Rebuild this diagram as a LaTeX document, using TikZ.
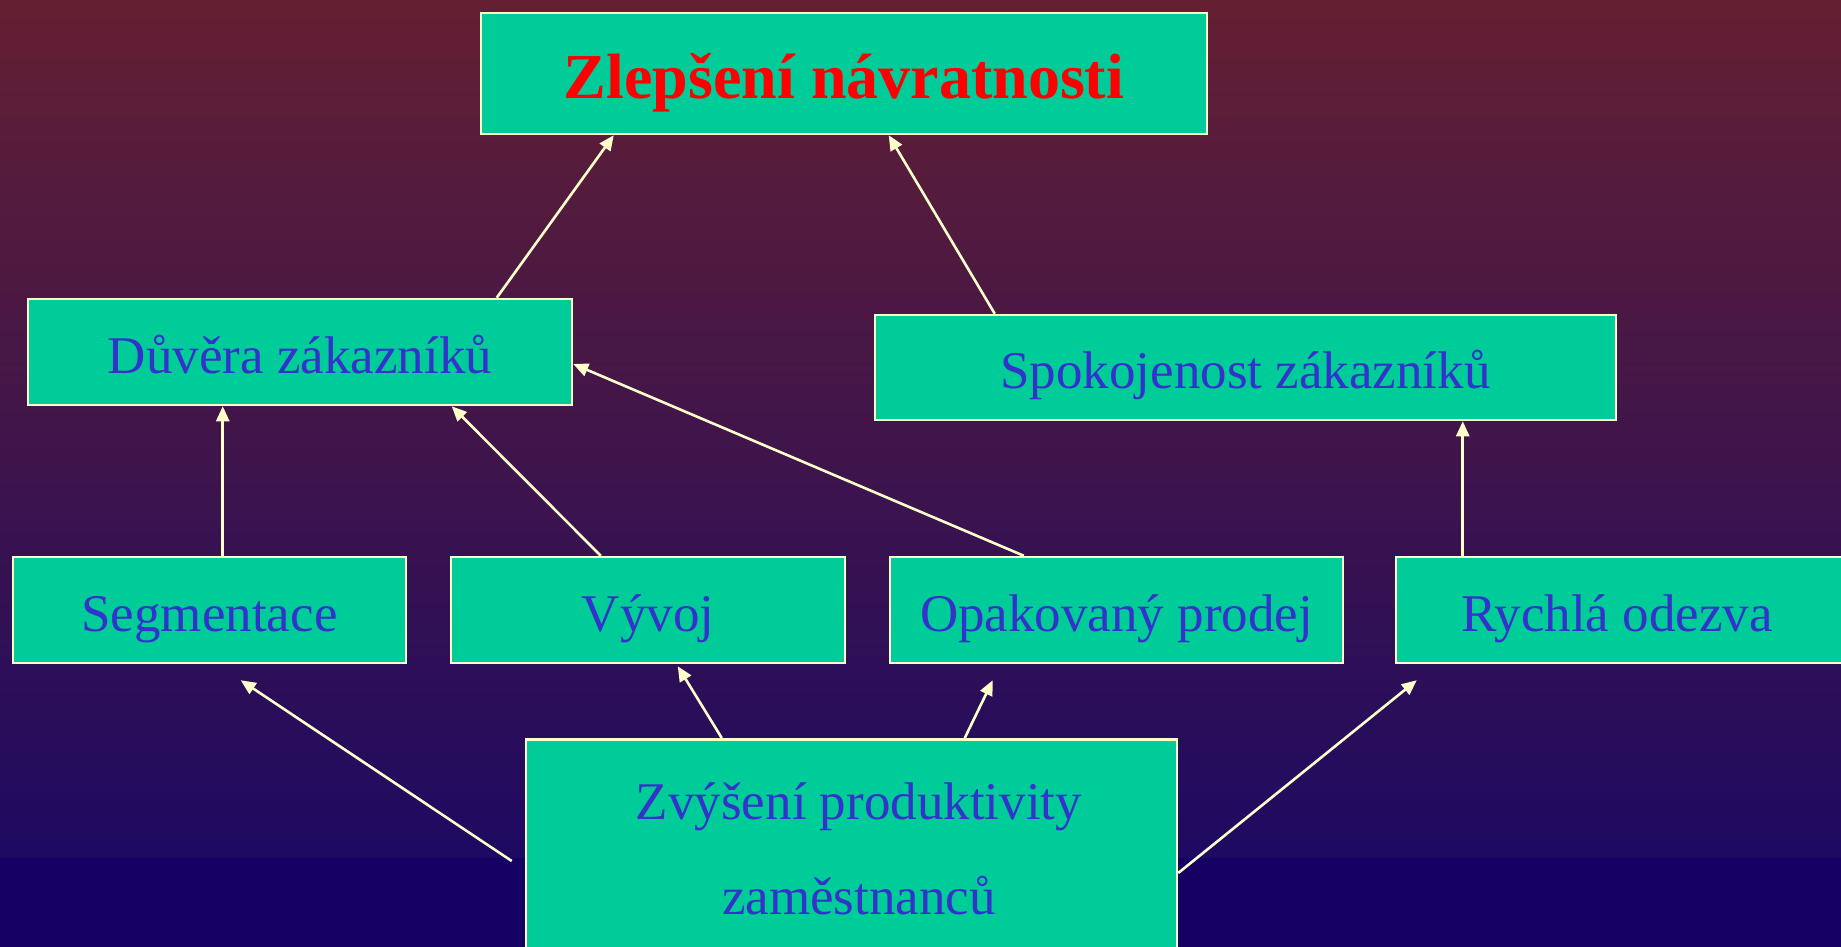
\documentclass[tikz,border=0pt]{standalone}
\usepackage{fontspec}
\setmainfont{Liberation Serif}
\usetikzlibrary{arrows.meta}
\definecolor{boxfill}{HTML}{00CC99}
\definecolor{boxline}{HTML}{FFFFCC}
\definecolor{txtblue}{HTML}{3333CC}
\definecolor{titlered}{HTML}{FF0000}
\definecolor{bgtop}{RGB}{100,32,50}
\definecolor{bgbot}{RGB}{30,10,98}
\definecolor{bgsolid}{RGB}{21,0,100}
\begin{document}
\begin{tikzpicture}[x=1pt,y=-1pt,
  box/.style={draw=boxline, line width=2.5pt, fill=boxfill, inner sep=0pt,
    text=txtblue, font=\fontsize{53}{64}\selectfont, text height=42pt, text depth=0pt},
  arr/.style={draw=boxline, line width=2.6pt, -{Triangle[length=15pt,width=13pt]}}]
\useasboundingbox (0,0) rectangle (1841,947);
\fill[bgsolid] (0,0) rectangle (1841,947);
\shade[top color=bgtop, bottom color=bgbot] (0,0) rectangle (1841,857);

\node[box, minimum width=726pt, minimum height=121pt, text=titlered,
  font=\bfseries\fontsize{64}{77}\selectfont, text height=50pt] (top) at (844,73.5) {Zlepšení návratnosti};
\node[box, minimum width=544pt, minimum height=106pt] (duv) at (300,352) {Důvěra zákazníků};
\node[box, minimum width=741pt, minimum height=105pt] (spok) at (1245.5,367.5) {Spokojenost zákazníků};
\node[box, minimum width=393pt, minimum height=106pt] (seg) at (209.5,610) {Segmentace};
\node[box, minimum width=394pt, minimum height=106pt] (vyv) at (648,610) {Vývoj};
\node[box, minimum width=453pt, minimum height=106pt] (opak) at (1116.5,610) {Opakovaný prodej};
\node[box, minimum width=480pt, minimum height=106pt] (rych) at (1636,610) {\hspace*{-38pt}Rychlá odezva};
\node[box, minimum width=651pt, font=\fontsize{53}{95}\selectfont, text height=80pt, text depth=182pt,
  anchor=north] (zvy) at (851.5,738)
  {\begin{tabular}[t]{@{\hspace{15pt}}c@{}}Zvýšení produktivity\\zaměstnanců\end{tabular}};

\draw[arr] ([xshift=470pt]duv.north west) -- ([xshift=134pt]top.south west);
\draw[arr] ([xshift=121pt]spok.north west) -- ([xshift=409pt]top.south west);
\draw[arr] ([xshift=211pt]seg.north west) -- ([xshift=196pt]duv.south west);
\draw[arr] ([xshift=151pt]vyv.north west) -- ([xshift=425pt]duv.south west);
\draw[arr] ([xshift=135pt]opak.north west) -- ([yshift=-12pt]duv.east);
\draw[arr] ([xshift=68pt]rych.north west) -- ([xshift=589pt]spok.south west);
\draw[arr] ([xshift=-13pt,yshift=-123pt]zvy.north west) -- ([xshift=229pt,yshift=-16pt]seg.south west);
\draw[arr] ([xshift=197pt]zvy.north west) -- ([xshift=228pt,yshift=-2pt]vyv.south west);
\draw[arr] ([xshift=440pt]zvy.north west) -- ([xshift=104pt,yshift=-16pt]opak.south west);
\draw[arr] ([yshift=-135pt]zvy.north east) -- ([xshift=22pt,yshift=-16pt]rych.south west);
\end{tikzpicture}
\end{document}
